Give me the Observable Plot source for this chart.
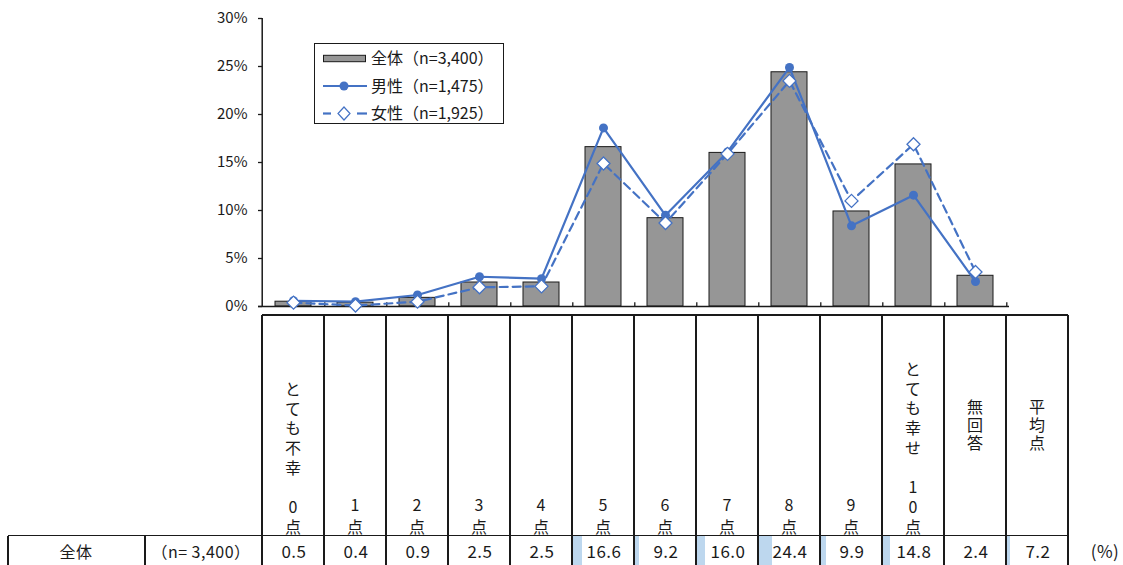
<!DOCTYPE html>
<html><head><meta charset="utf-8">
<script src="https://cdn.jsdelivr.net/npm/d3@7"></script>
<script src="https://cdn.jsdelivr.net/npm/@observablehq/plot@0.6"></script>
<style>
html,body{margin:0;padding:0;background:#fff;}
#root{position:relative;width:1123px;height:565px;overflow:hidden;font-family:"Noto Sans CJK JP","Noto Sans",sans-serif;color:#1a1a1a;}
.abs{position:absolute;}
.hl{position:absolute;background:#1a1a1a;}
.cell{position:absolute;text-align:center;white-space:nowrap;}
.vert{position:absolute;writing-mode:vertical-rl;text-orientation:upright;white-space:nowrap;}
</style></head><body><div id="root"></div>
<script>
// ---- data ----
const categories = ["0点","1点","2点","3点","4点","5点","6点","7点","8点","9点","10点","無回答"];
const totalBars = [0.5, 0.4, 0.9, 2.5, 2.5, 16.6, 9.2, 16.0, 24.4, 9.9, 14.8, 3.2];
const maleValues = [0.6, 0.5, 1.2, 3.1, 2.9, 18.6, 9.5, 16.1, 24.9, 8.4, 11.6, 2.6];
const femaleValues = [0.4, 0.1, 0.5, 2.0, 2.1, 14.9, 8.7, 15.9, 23.5, 11.0, 16.9, 3.6];
const yTicks = [0, 5, 10, 15, 20, 25, 30];
const legendLabels = ["全体（n=3,400）", "男性（n=1,475）", "女性（n=1,925）"];
const tableColumns = [...categories, "平均点"];
const headerLabels = [
  "とても不幸　0点",
  "1点", "2点", "3点", "4点", "5点", "6点", "7点", "8点", "9点",
  "とても幸せ　10点",
  "無回答",
  "平均点"
];
const rowLabel = "全体";
const rowN = "（n= 3,400）";
const rowValues = [0.5, 0.4, 0.9, 2.5, 2.5, 16.6, 9.2, 16.0, 24.4, 9.9, 14.8, 2.4, 7.2];
const unitLabel = "(%)";

// ---- chart ----
const FONT = '"Noto Sans CJK JP","Noto Sans",sans-serif';
const INK = "#1a1a1a";
const BLUE = "#4472C4";
const W = 1123, H = 316, ML = 258, MR = 114, MT = 18, MB = 10;
const plotW = W - ML - MR;
const step = plotW / categories.length;
const rows = categories.map((c, i) => ({cat: c, total: totalBars[i], male: maleValues[i], female: femaleValues[i]}));
const diamond = {draw(ctx, size) {
  const h = Math.sqrt(size / Math.PI) * 1.3;
  ctx.moveTo(0, -h); ctx.lineTo(h, 0); ctx.lineTo(0, h); ctx.lineTo(-h, 0); ctx.closePath();
}};

const chart = Plot.plot({
  width: W, height: H, marginLeft: ML, marginRight: MR, marginTop: MT, marginBottom: MB,
  style: {fontFamily: FONT, fontSize: "15px", color: INK, background: "transparent", overflow: "visible"},
  x: {domain: categories, paddingInner: 0.42, paddingOuter: 0.21, axis: null},
  y: {domain: [0, 30], ticks: yTicks, tickSize: 0, tickPadding: 11, tickFormat: d => d + "%", label: null},
  marks: [
    Plot.barY(rows, {x: "cat", y: "total", fill: "#969696", stroke: INK, strokeWidth: 1}),
    Plot.ruleY([0], {stroke: INK, strokeWidth: 1.5}),
    Plot.ruleX([categories[0]], {x: d => d, y1: 0, y2: 30, dx: -step / 2, stroke: INK, strokeWidth: 1.5}),
    Plot.ruleX(categories, {x: d => d, y1: 0, y2: 0.4, dx: step / 2, stroke: INK, strokeWidth: 1.3}),
    Plot.tickY(yTicks, {y: d => d, insetRight: plotW - 4, stroke: INK, strokeWidth: 1.3}),
    Plot.lineY(rows, {x: "cat", y: "male", stroke: BLUE, strokeWidth: 2.2}),
    Plot.dot(rows, {x: "cat", y: "male", r: 4.5, fill: BLUE, stroke: "none"}),
    Plot.lineY(rows, {x: "cat", y: "female", stroke: BLUE, strokeWidth: 2.2, strokeDasharray: "8,5"}),
    Plot.dot(rows, {x: "cat", y: "female", r: 5, symbol: diamond, fill: "white", stroke: BLUE, strokeWidth: 1.3})
  ]
});
const root = document.getElementById("root");
chart.style.position = "absolute";
chart.style.left = "0px";
chart.style.top = "0px";
root.appendChild(chart);

// ---- legend ----
const leg = document.createElement("div");
leg.className = "abs";
Object.assign(leg.style, {left: "314px", top: "43px", width: "188px", height: "79px", border: "1.3px solid " + INK, background: "#fff"});
const lsvg = d3.create("svg").attr("width", 188).attr("height", 79).style("position", "absolute").style("left", 0).style("top", 0);
const rowY = [14.5, 42, 69.5];
lsvg.append("rect").attr("x", 8.5).attr("y", rowY[0] - 3.2).attr("width", 42).attr("height", 6.4).attr("fill", "#969696").attr("stroke", INK).attr("stroke-width", 1);
lsvg.append("line").attr("x1", 8).attr("x2", 52).attr("y1", rowY[1]).attr("y2", rowY[1]).attr("stroke", BLUE).attr("stroke-width", 2.2);
lsvg.append("circle").attr("cx", 29).attr("cy", rowY[1]).attr("r", 4.5).attr("fill", BLUE);
lsvg.append("line").attr("x1", 8).attr("x2", 16).attr("y1", rowY[2]).attr("y2", rowY[2]).attr("stroke", BLUE).attr("stroke-width", 2.2);
lsvg.append("line").attr("x1", 42).attr("x2", 52).attr("y1", rowY[2]).attr("y2", rowY[2]).attr("stroke", BLUE).attr("stroke-width", 2.2);
lsvg.append("path").attr("d", "M29,63L35,69.5L29,76L23,69.5Z").attr("fill", "#fff").attr("stroke", BLUE).attr("stroke-width", 1.2);
legendLabels.forEach((t, i) => {
  lsvg.append("text").attr("x", 56).attr("y", rowY[i]).attr("dy", "0.36em").attr("font-size", 16).attr("font-family", FONT).attr("fill", INK).text(t);
});
leg.appendChild(lsvg.node());
root.appendChild(leg);

// ---- table ----
const xs = chart.scale("x");
const st = xs.step ?? (xs.range[1] - xs.range[0]) / xs.domain.length;
const bw = xs.bandwidth;
const colLeft = tableColumns.map((c, i) => i < categories.length ? xs.apply(c) - (st - bw) / 2 : xs.apply(categories[categories.length - 1]) - (st - bw) / 2 + st * (i - categories.length + 1));
const tableRight = colLeft[colLeft.length - 1] + st;
const headTop = 315, dataTop = 535.5, tableBottom = 566, lw = 1.3;
function hline(x1, x2, y) { const d = document.createElement("div"); d.className = "hl"; Object.assign(d.style, {left: x1 + "px", top: (y - lw / 2) + "px", width: (x2 - x1) + "px", height: lw + "px"}); root.appendChild(d); }
function vline(x, y1, y2) { const d = document.createElement("div"); d.className = "hl"; Object.assign(d.style, {left: (x - lw / 2) + "px", top: y1 + "px", width: lw + "px", height: (y2 - y1) + "px"}); root.appendChild(d); }

// data bars (light blue) first
const dataBarW = d3.scaleLinear([0, 24.4], [0, 14]);
rowValues.forEach((v, i) => {
  const d = document.createElement("div");
  d.className = "abs";
  Object.assign(d.style, {left: colLeft[i] + "px", top: dataTop + "px", width: dataBarW(v) + "px", height: (tableBottom - dataTop) + "px", background: "#BDD7EE"});
  root.appendChild(d);
});

hline(colLeft[0], tableRight, headTop);
hline(8, tableRight, dataTop);
colLeft.forEach(x => vline(x, headTop, tableBottom));
vline(tableRight, headTop, tableBottom);
vline(8, dataTop, tableBottom);
vline(145, dataTop, tableBottom);

// header labels (vertical writing)
headerLabels.forEach((label, i) => {
  const cx = colLeft[i] + st / 2;
  const d = document.createElement("div");
  d.className = "vert";
  const centered = i > 10;
  const ls = centered ? 2 : (label.length <= 3 ? 6 : 3.7);
  const fs = 16;
  if (centered) {
    const len = label.length * (fs + ls);
    Object.assign(d.style, {top: (425 - len / 2 + ls / 2) + "px", height: len + "px", textAlign: "start"});
  } else {
    const bottom = 535 + ls;
    const len = label.length * (fs + ls);
    Object.assign(d.style, {top: (bottom - len) + "px", height: len + "px", textAlign: "start"});
  }
  Object.assign(d.style, {left: (cx - 12) + "px", width: "24px", lineHeight: "24px", fontSize: fs + "px", letterSpacing: ls + "px"});
  d.textContent = label;
  root.appendChild(d);
});

// data row
function cellText(text, cx, cy, size) {
  const d = document.createElement("div");
  d.className = "cell";
  Object.assign(d.style, {left: (cx - 60) + "px", width: "120px", top: (cy - 12) + "px", height: "24px", lineHeight: "24px", fontSize: size + "px", letterSpacing: "0.5px"});
  d.textContent = text;
  root.appendChild(d);
}
const rowCy = 551;
cellText(rowLabel, 76, rowCy, 16);
cellText(rowN, 201, rowCy, 16);
rowValues.forEach((v, i) => cellText(v.toFixed(1), colLeft[i] + st / 2 + 1, rowCy, 17));
cellText(unitLabel, 1105, rowCy, 17);
</script></body></html>
